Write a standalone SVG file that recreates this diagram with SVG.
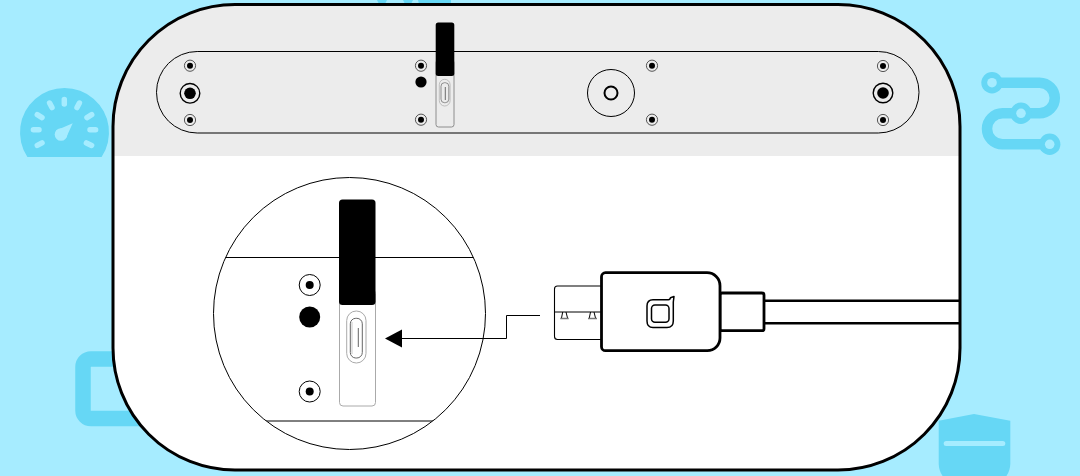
<svg xmlns="http://www.w3.org/2000/svg" width="1080" height="476" viewBox="0 0 1080 476">
<style>
.bg{fill:#66d7f5}
.tick{stroke:#a6ecff;stroke-width:5.500;stroke-linecap:round;fill:none}
.thin{fill:none;stroke:#000;stroke-width:1}
.k{fill:#000}
.bold{fill:#fff;stroke:#000;stroke-width:2.800;stroke-linejoin:round}
</style>
<defs>
<clipPath id="frame"><rect x="113" y="4.500" width="847" height="465.500" rx="122" ry="122"/></clipPath>
<clipPath id="lens"><circle cx="349.500" cy="313.500" r="136"/></clipPath>
<g id="hole"><circle r="5.600" fill="none" stroke="#444" stroke-width="0.900"/><circle r="3" class="k"/></g>
</defs>
<rect width="1080" height="476" fill="#a6ecff"/>
<g id="bg-icons">
<g id="icon-gauge">
<path class="bg" d="M27.400 157A44.500 44.500 0 1 1 101.600 157Z"/>
<path class="tick" d="M64.300 99.500V104M49.600 103L52 107.600M79.400 103L77 107.600M37.300 114.700L42 117.600M91.700 114.700L87 117.600M33.400 129.700H39M90 129.700H95.600M37.300 145.400L42 142.900M91.600 145.400L86.400 142.900"/>
<circle cx="61" cy="134.500" r="6.300" fill="#a6ecff"/>
<path fill="#a6ecff" d="M72.700 123.300L56 130.500L66 138Z"/>
</g>
<g id="icon-route">
<path fill="none" stroke="#66d7f5" stroke-width="10.500" d="M992 82.700H1039.500A15.300 15.300 0 0 1 1039.500 113.300H1002.500A15.500 15.500 0 0 0 1002.500 144.300H1050"/>
<circle class="bg" cx="992" cy="82.700" r="10.700"/><circle cx="992" cy="82.700" r="4.800" fill="#a6ecff"/>
<circle class="bg" cx="1021" cy="113.300" r="10.700"/><circle cx="1021" cy="113.300" r="4.800" fill="#a6ecff"/>
<circle class="bg" cx="1049.700" cy="144.300" r="10.700"/><circle cx="1049.700" cy="144.300" r="4.800" fill="#a6ecff"/>
</g>
<g id="icon-square"><rect x="83" y="359" width="70" height="59.500" rx="8" fill="none" stroke="#66d7f5" stroke-width="15.500"/></g>
<g id="icon-shield">
<path class="bg" d="M938.700 420.700L974 414L1010.300 420.700V464Q1010 476 998 484H951Q939 476 938.700 464Z"/>
<rect x="943.700" y="441" width="61.600" height="5" rx="2.500" fill="#a6ecff"/>
</g>
<g id="icon-top"><path class="bg" d="M377 0H387L385 4H379ZM403 0H413L411 4H405ZM418 0H451V4H419Z"/></g>
</g>
<g id="device">
<rect x="113" y="4.500" width="847" height="465.500" rx="122" ry="122" fill="#fff"/>
<rect x="113" y="4.500" width="847" height="151.500" fill="#ececec" clip-path="url(#frame)"/>
<rect x="156.500" y="51.500" width="762.500" height="81.500" rx="40.700" fill="none" stroke="#000" stroke-width="1"/>
<rect x="113" y="4.500" width="847" height="465.500" rx="122" ry="122" fill="none" stroke="#000" stroke-width="3"/>
</g>
<g id="panel-holes">
<use href="#hole" x="190" y="65.700"/><use href="#hole" x="190" y="120"/>
<use href="#hole" x="421" y="65.700"/><use href="#hole" x="421" y="119.700"/>
<use href="#hole" x="652" y="65.700"/><use href="#hole" x="652" y="119.700"/>
<use href="#hole" x="883" y="66"/><use href="#hole" x="883" y="120"/>
<circle class="k" cx="421" cy="82" r="5.600"/>
<circle cx="190" cy="93.300" r="9.800" fill="none" stroke="#000" stroke-width="1.400"/><circle class="k" cx="190" cy="93.300" r="5.800"/>
<circle cx="883" cy="93" r="9.800" fill="none" stroke="#000" stroke-width="1.400"/><circle class="k" cx="883" cy="93" r="5.800"/>
<circle cx="611" cy="93" r="23.500" class="thin"/><circle cx="611" cy="93" r="6.500" fill="none" stroke="#000" stroke-width="2"/>
</g>
<g id="panel-plug">
<rect x="436" y="60" width="18" height="67" rx="2.500" fill="#ececec" stroke="#777" stroke-width="0.800"/>
<rect x="435.700" y="22.500" width="18.600" height="53.500" rx="2.500" class="k"/>
<rect x="439.300" y="79.300" width="10.800" height="26.700" rx="5.400" fill="none" stroke="#aaa" stroke-width="0.700"/>
<rect x="441" y="82.700" width="7.800" height="20" rx="3.500" fill="none" stroke="#666" stroke-width="0.700"/>
<path d="M445.300 87V100" stroke="#333" stroke-width="0.700"/>
</g>
<g id="detail">
<circle cx="349.500" cy="313.500" r="136" class="thin"/>
<g clip-path="url(#lens)"><path class="thin" d="M213 257.500H486M213 421H486"/></g>
<rect x="339.500" y="290" width="36" height="116" rx="3.500" fill="#fff" stroke="#aaa" stroke-width="1"/>
<rect x="339" y="199.500" width="36.500" height="105.500" rx="3.500" class="k"/>
<rect x="346.700" y="311" width="19.300" height="52" rx="9.600" fill="none" stroke="#aaa" stroke-width="1"/>
<rect x="350.300" y="318.300" width="12" height="39.700" rx="5.500" fill="none" stroke="#666" stroke-width="1"/>
<path d="M352 322V354" fill="none" stroke="#bbb" stroke-width="0.800"/>
<path d="M358.300 328V347" stroke="#666" stroke-width="1"/>
<circle cx="309.700" cy="285" r="10.500" fill="none" stroke="#000" stroke-width="1"/><circle class="k" cx="309.700" cy="285" r="4"/>
<circle class="k" cx="309.700" cy="317" r="10.500"/>
<circle cx="309.700" cy="391.500" r="10.500" fill="none" stroke="#000" stroke-width="1"/><circle class="k" cx="309.700" cy="391.500" r="4"/>
</g>
<g id="connectors">
<path class="thin" d="M402 338.500H506.500V315.500H540"/>
<path class="k" d="M385 338.500L402 329.500V347.500Z"/>
</g>
<g id="usb-plug">
<path fill="none" stroke="#000" stroke-width="2.500" d="M720 300.700H960M720 323.300H960"/>
<rect x="554.500" y="286" width="50" height="53.500" rx="3" fill="#fff" stroke="#000" stroke-width="1.100"/>
<path fill="none" stroke="#000" stroke-width="1" d="M554.500 312H602M562.700 312L561.500 318M566 312L567.500 318M590.500 312L589.300 318M594 312L595.500 318"/>
<path fill="none" stroke="#777" stroke-width="1.500" d="M560.300 318.500H568.700M588 318.500H597"/>
<rect x="720" y="293" width="44" height="37.700" rx="2" class="bold"/>
<path class="bold" d="M605.500 272.700H707A13 13 0 0 1 720 285.700V338A12.700 12.700 0 0 1 707.300 350.700H605.500A4 4 0 0 1 601.500 346.700V276.700A4 4 0 0 1 605.500 272.700Z"/>
<path fill="none" stroke="#000" stroke-width="1.500" stroke-linejoin="round" d="M653 299.700H668.500Q670 299.700 670.500 297.700L674 296.500L673.300 302V321Q673.300 327.500 667 327.500H653Q647 327.500 647 321V306Q647 299.700 653 299.700Z"/>
<rect x="651.500" y="305" width="17.500" height="17.300" rx="3.500" fill="none" stroke="#000" stroke-width="1.500"/>
</g>
</svg>
